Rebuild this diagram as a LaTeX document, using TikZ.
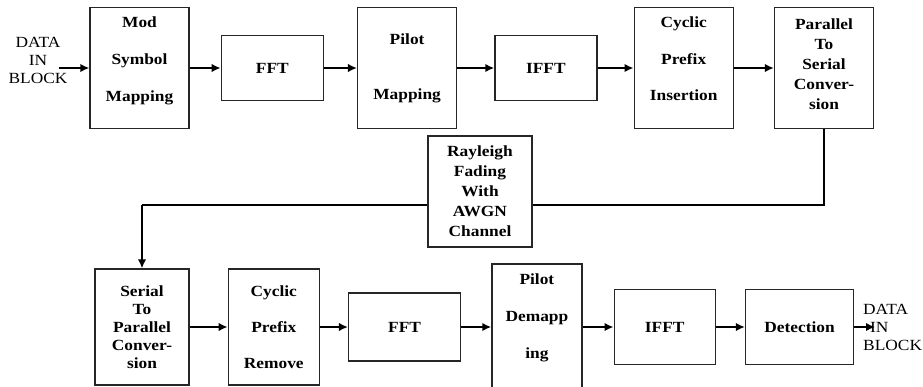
\documentclass[tikz,border=0pt]{standalone}
\usepackage{fontspec}
\setmainfont{Liberation Serif}[FakeStretch=1.12]
\usetikzlibrary{positioning,arrows.meta}

\begin{document}
\begin{tikzpicture}[x=1pt, y=-1pt,
    every node/.style={align=center, inner sep=0pt, font=\fontsize{15.5pt}{20pt}\selectfont\bfseries},
    blk/.style={draw=black!85, line width=1.3pt, minimum width=99pt, minimum height=121pt},
    shortblk/.style={blk, minimum width=102pt, minimum height=65pt},
    io/.style={font=\fontsize{15.5pt}{18pt}\selectfont},
    arr/.style={line width=2.8pt, -{Latex[length=9pt, width=8.5pt]}},
    wire/.style={line width=1.4pt}]
  \useasboundingbox (0,0) rectangle (923,386);
  % transmitter
  \node (in) [io] at (38,60) {DATA\\IN\\BLOCK};
  \node (mod) [blk] at (139.5,68) {Mod\\[17pt]Symbol\\[17pt]Mapping\\[-3pt]\mbox{}};
  \node (fft1) [shortblk, right=31pt of mod] {FFT};
  \node (pil) [blk, right=33pt of fft1] {Pilot\\[35pt]Mapping};
  \node (ifft1) [shortblk, right=37pt of pil] {IFFT};
  \node (cpi) [blk, right=36pt of ifft1] {Cyclic\\[17pt]Prefix\\[16pt]Insertion\\[-1pt]\mbox{}};
  \node (p2s) [blk, right=40pt of cpi] {Parallel\\To\\Serial\\Conver-\\sion\\[-12pt]\mbox{}};
  % channel
  \node (ch) [blk, minimum width=104pt, minimum height=111pt] at (480,191.5) {Rayleigh\\Fading\\With\\AWGN\\Channel};
  % receiver
  \node (s2p) [blk, minimum width=94pt, minimum height=116pt] at (142,327) {Serial\\[-2pt]To\\[-2pt]Parallel\\[-2pt]Conver-\\[-2pt]sion};
  \node (cpr) [blk, minimum width=91pt, minimum height=116pt, right=38pt of s2p] {Cyclic\\[16pt]Prefix\\[16pt]Remove};
  \node (fft2) [blk, minimum width=112pt, minimum height=68pt, right=28pt of cpr] {FFT};
  \node (pdm) [blk, minimum width=90pt, minimum height=126pt, right=30pt of fft2] {Pilot\\[17pt]Demapp\\[17pt]ing\\[2pt]\mbox{}};
  \node (ifft2) [blk, minimum width=101pt, minimum height=75pt, right=31pt of pdm] {IFFT};
  \node (det) [blk, minimum width=108pt, minimum height=75pt, right=29pt of ifft2] {Detection};
  \node (out) [io, align=left, anchor=west] at (863,327) {DATA\\\hspace{7pt}IN\\BLOCK};

  \coordinate (src) at ([xshift=-9pt]in.east);
  \draw[arr] (src |- mod.west) -- (mod.west);
  \draw[arr] (mod) -- (fft1);
  \draw[arr] (fft1) -- (pil);
  \draw[arr] (pil) -- (ifft1);
  \draw[arr] (ifft1) -- (cpi);
  \draw[arr] (cpi) -- (p2s);

  \coordinate (chout) at ([yshift=-13.5pt]ch.east);
  \coordinate (chin) at ([yshift=-13.5pt]ch.west);
  \coordinate (turn) at (chin -| s2p.north);
  \draw[wire] (p2s.south) |- (chout);
  \draw[wire] (chin) -- (turn);
  \draw[arr] (turn) -- (s2p.north);

  \draw[arr] (s2p) -- (cpr);
  \draw[arr] (cpr) -- (fft2);
  \draw[arr] (fft2) -- (pdm);
  \draw[arr] (pdm) -- (ifft2);
  \draw[arr] (ifft2) -- (det);
  \draw[arr] (det.east) -- ([xshift=12pt]out.west);
\end{tikzpicture}
\end{document}
